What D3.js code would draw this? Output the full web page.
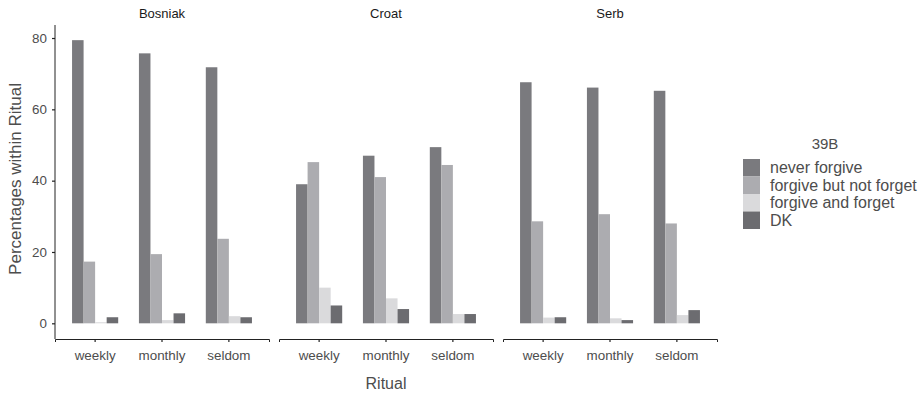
<!DOCTYPE html>
<html><head><meta charset="utf-8">
<script src="https://cdn.jsdelivr.net/npm/d3@7"></script>
<style>body{margin:0;background:#fff}svg{display:block}text{font-family:"Liberation Sans",Arial,sans-serif}</style>
</head><body><svg id="c" width="923" height="395"></svg>
<script>
const panels = ["Bosniak", "Croat", "Serb"];
const rituals = ["weekly", "monthly", "seldom"];
const series = ["never forgive", "forgive but not forget", "forgive and forget", "DK"];
const colors = ["#7a7a7e", "#acacb0", "#dadadc", "#6c6c70"];
const yTicks = [0, 20, 40, 60, 80];
// values[panel][ritual] = [never, butNot, andForget, DK]
const bosniak = [[79.4, 17.3, 0.3, 1.7], [75.7, 19.4, 0.9, 2.8], [71.8, 23.7, 2.0, 1.7]];
const croat   = [[39.0, 45.2, 10.0, 5.0], [47.0, 41.0, 7.0, 4.0], [49.4, 44.4, 2.6, 2.6]];
const serb    = [[67.6, 28.6, 1.6, 1.7], [66.1, 30.6, 1.4, 0.9], [65.2, 28.0, 2.3, 3.7]];
const values = [bosniak, croat, serb];

const svg = d3.select("#c");
const plotTop = 25, plotBottom = 339;
const panelX = [55, 279, 503], panelW = 214;
const y = d3.scaleLinear().domain([-4.4, 83.65]).range([plotBottom, plotTop]);
const xc = d3.scaleBand().domain(rituals).range([0, panelW]).paddingInner(0.31).paddingOuter(0.255);
const xs = d3.scaleBand().domain(series).range([0, xc.bandwidth()]);
const textCol = "#4d4d4d";

panels.forEach((p, pi) => {
  const g = svg.append("g").attr("transform", `translate(${panelX[pi]},0)`);
  g.append("text").attr("x", panelW / 2).attr("y", 18).attr("text-anchor", "middle")
    .attr("font-size", 13).attr("fill", "#1a1a1a").text(p);
  rituals.forEach((r, ri) => {
    g.selectAll(null).data(values[pi][ri]).enter().append("rect")
      .attr("x", (d, i) => xc(r) + xs(series[i]))
      .attr("width", xs.bandwidth())
      .attr("y", d => y(d))
      .attr("height", d => y(0) - y(d))
      .attr("fill", (d, i) => colors[i]);
  });
  const ax = g.append("g").attr("transform", `translate(0,${plotBottom})`)
    .call(d3.axisBottom(xc).tickSize(3).tickPadding(8));
  ax.select(".domain").attr("stroke", "#222").attr("stroke-width", 1);
  ax.selectAll(".tick line").attr("stroke", "#222").attr("stroke-width", 1.2);
  ax.selectAll(".tick text").attr("font-size", 13.4).attr("fill", textCol).attr("font-family", "Liberation Sans, Arial, sans-serif");
  if (pi === 0) {
    const ay = g.append("g").call(d3.axisLeft(y).tickValues(yTicks).tickSize(3).tickPadding(5));
    ay.select(".domain").attr("stroke", "#222").attr("d", `M0,${plotTop}V${plotBottom}`);
    ay.selectAll(".tick line").attr("stroke", "#222").attr("stroke-width", 1.2);
    ay.selectAll(".tick text").attr("font-size", 13.4).attr("fill", textCol).attr("font-family", "Liberation Sans, Arial, sans-serif");
  }
});

svg.append("text").attr("x", 386).attr("y", 389).attr("text-anchor", "middle")
  .attr("font-size", 16).attr("fill", textCol).text("Ritual");
svg.append("text").attr("transform", `translate(21,${(plotTop + plotBottom) / 2 - 3}) rotate(-90)`)
  .attr("text-anchor", "middle").attr("font-size", 17).attr("fill", textCol).text("Percentages within Ritual");

const lg = svg.append("g").attr("transform", "translate(743,159)");
lg.append("text").attr("x", 82).attr("y", -10).attr("text-anchor", "middle")
  .attr("font-size", 15).attr("fill", textCol).text("39B");
series.forEach((s, i) => {
  lg.append("rect").attr("x", 0).attr("y", i * 17.5).attr("width", 17).attr("height", 17.5).attr("fill", colors[i]);
  lg.append("text").attr("x", 27).attr("y", i * 17.5 + 14).attr("font-size", 16).attr("fill", textCol).text(s);
});
</script></body></html>
